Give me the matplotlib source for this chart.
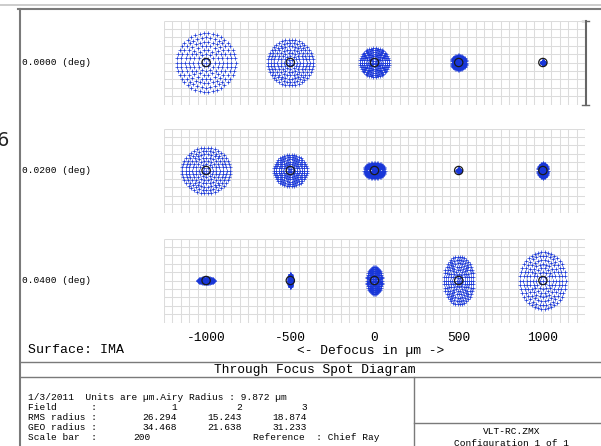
import numpy as np
import matplotlib.pyplot as plt
from matplotlib.patches import Circle

W, H = 601, 446

fields = ["0.0000 (deg)", "0.0200 (deg)", "0.0400 (deg)"]
defocus = [-1000, -500, 0, 500, 1000]

# spot semi-axes in um (x and y), one row per field
semi_x = [
    [70, 54, 34, 17, 3],
    [57, 39, 24, 3, 11],
    [19, 3, 18, 35, 54],
]
semi_y = [
    [70, 54, 34, 17, 3],
    [54, 37, 19, 3, 17],
    [6, 15, 32, 57, 68],
]

airy_radius = 9.872
box_size = 200  # scale bar, um

field_no = ["1", "2", "3"]
rms_radius = ["26.294", "15.243", "18.874"]
geo_radius = ["34.468", "21.638", "31.233"]

mono = "Liberation Mono"
blue = "#1836d8"
frame = "#7a7a7a"


def hexapolar(rings=7):
    # pupil sampling used for tracing the rays
    px, py = [0.0], [0.0]
    for k in range(1, rings + 1):
        t = np.arange(6 * k) * 2 * np.pi / (6 * k)
        px += list(k / rings * np.cos(t))
        py += list(k / rings * np.sin(t))
    return np.array(px), np.array(py)


pupil_x, pupil_y = hexapolar()

fig = plt.figure(figsize=(W / 100, H / 100), dpi=100)

# page frame, texts etc in pixel coords
ov = fig.add_axes([0, 0, 1, 1], zorder=-1)
ov.set_xlim(0, W)
ov.set_ylim(H, 0)
ov.axis("off")

ov.plot([0, W], [5, 5], color="#c4c4c4", lw=1.2)
ov.plot([18, W], [8.5, 8.5], color=frame, lw=1.5)
ov.plot([19.5, 19.5], [8.5, H], color=frame, lw=1.5)
ov.plot([19.5, W], [362, 362], color=frame, lw=1)
ov.plot([19.5, W], [377, 377], color=frame, lw=1)
ov.plot([414, 414], [377, H], color=frame, lw=1)
ov.plot([414, W], [423, 423], color=frame, lw=1)

ov.text(-3, 140, "6", fontsize=14, color="#222222", ha="left", va="center")

row_top = [20.5, 128.5, 238.5]
gx0, gx1 = 164, 585
bh = 84

for r in range(3):
    ax = fig.add_axes([gx0 / W, 1 - (row_top[r] + bh) / H, (gx1 - gx0) / W, bh / H])
    ax.set_facecolor("none")
    ax.set_xlim(-box_size / 2, box_size * 4.5)
    ax.set_ylim(-box_size / 2, box_size / 2)
    for s in ax.spines.values():
        s.set_visible(False)
    ax.vlines(np.arange(-100, 901, 20), -100, 100, color="#dcdcdc", lw=0.75, zorder=0)
    ax.hlines(np.arange(-100, 101, 20), -100, 900, color="#dcdcdc", lw=0.75, zorder=0)

    for i in range(len(defocus)):
        cx = i * box_size
        ax.plot(cx + semi_x[r][i] * pupil_x, semi_y[r][i] * pupil_y, "+",
                color=blue, ms=2.5, mew=0.5, zorder=2)
        ax.add_patch(Circle((cx, 0), airy_radius, fill=False, ec="#1a1a1a", lw=0.9, zorder=3))

    ax.set_yticks([])
    if r == 2:
        ax.set_xticks(np.arange(len(defocus)) * box_size, labels=[str(d) for d in defocus])
        ax.tick_params(axis="x", length=0, pad=7, labelsize=9.3)
        for t in ax.get_xticklabels():
            t.set_fontfamily(mono)
    else:
        ax.set_xticks([])

    ov.text(22, row_top[r] + bh / 2, fields[r], fontsize=6.8, family=mono, va="center")

# scale bar
ov.plot([586, 586], [row_top[0], row_top[0] + bh], color="#666666", lw=1.5)
ov.plot([582, 589], [row_top[0], row_top[0]], color="#666666", lw=1)
ov.plot([582, 589], [row_top[0] + bh, row_top[0] + bh], color="#666666", lw=1)
ov.text(597, 62, str(box_size), fontsize=7, family=mono, color="#999999",
        rotation=-90, ha="left", va="center")

ov.text(28, 350, "Surface: IMA", fontsize=9.5, family=mono, va="center")
ov.text(371, 351, "<- Defocus in µm ->", fontsize=9.3, family=mono, ha="center", va="center")
ov.text(315, 369.5, "Through Focus Spot Diagram", fontsize=9.3, family=mono, ha="center", va="center")

fs = 6.8
ov.text(28, 397, f"1/3/2011  Units are µm.Airy Radius : {airy_radius:.3f} µm",
        fontsize=fs, family=mono, va="center")
labels = ["Field      :", "RMS radius :", "GEO radius :"]
rows = [field_no, rms_radius, geo_radius]
col_x = [177, 242, 307]
for k in range(3):
    y = 407 + k * 10
    ov.text(28, y, labels[k], fontsize=fs, family=mono, va="center")
    for c in range(3):
        ov.text(col_x[c], y, rows[k][c], fontsize=fs, family=mono, ha="right", va="center")
ov.text(28, 437, "Scale bar  :", fontsize=fs, family=mono, va="center")
ov.text(133, 437, str(box_size), fontsize=fs, family=mono, va="center")
ov.text(253, 437, "Reference  : Chief Ray", fontsize=fs, family=mono, va="center")

ov.text(512, 432, "VLT-RC.ZMX", fontsize=fs, family=mono, ha="center", va="center")
ov.text(512, 444, "Configuration 1 of 1", fontsize=fs, family=mono, ha="center", va="center")

fig.savefig("out.png", dpi=100)
